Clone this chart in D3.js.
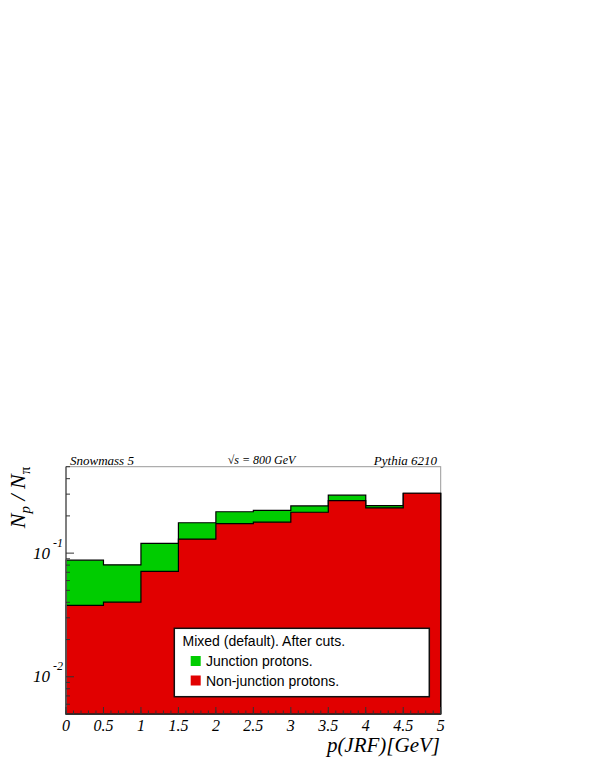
<!DOCTYPE html>
<html><head><meta charset="utf-8">
<script src="https://cdn.jsdelivr.net/npm/d3@7"></script>
<style>body{margin:0;background:#fff}svg{display:block}</style>
</head><body>
<script>
const binEdges = [0,0.5,1,1.5,2,2.5,3,3.5,4,4.5,5];
const nonJunction = [0.0378,0.0401,0.0711,0.130,0.173,0.178,0.214,0.266,0.232,0.305];
const junction    = [0.0499,0.0403,0.0489,0.046,0.043,0.044,0.027,0.028,0.010,0.0];
const xTicks = [0,0.5,1,1.5,2,2.5,3,3.5,4,4.5,5];
const xTickLabels = ["0","0.5","1","1.5","2","2.5","3","3.5","4","4.5","5"];
const yDecades = [0.01,0.1];
const yDecadeExp = ["-2","-1"];
const legendTitle = "Mixed (default). After cuts.";
const legendLabels = ["Junction protons.","Non-junction protons."];
const colors = {junction:"#00cc00", non:"#e10000"};

const W=595,H=770;
const svg=d3.select("body").append("svg").attr("width",W).attr("height",H);
const L=66,R=440.7,T=466.7,B=714;
const x=d3.scaleLinear().domain([0,5]).range([L,R]);
const y=d3.scaleLog().domain([0.005,0.5]).range([B,T]);
const serif="'Liberation Serif','Times New Roman',serif";
const sans="'Liberation Sans',Arial,sans-serif";

const total = nonJunction.map((v,i)=>v+junction[i]);
function stepPath(vals){
  let p=`M${x(binEdges[0])},${B}`;
  vals.forEach((v,i)=>{p+=`L${x(binEdges[i])},${y(v)}L${x(binEdges[i+1])},${y(v)}`;});
  p+=`L${x(binEdges[binEdges.length-1])},${B}Z`;
  return p;
}
// frame
svg.append("rect").attr("x",L).attr("y",T).attr("width",R-L).attr("height",B-T)
  .attr("fill","#fff").attr("stroke","#999").attr("stroke-width",1);
svg.append("path").attr("d",stepPath(total)).attr("fill",colors.junction).attr("stroke","#000").attr("stroke-width",1.2);
svg.append("path").attr("d",stepPath(nonJunction)).attr("fill",colors.non).attr("stroke","#000").attr("stroke-width",1.2);

// axes lines
svg.append("line").attr("x1",L).attr("x2",L).attr("y1",T).attr("y2",B).attr("stroke","#666").attr("stroke-width",1.5);
svg.append("line").attr("x1",L).attr("x2",R).attr("y1",B).attr("y2",B).attr("stroke","#333").attr("stroke-width",1.2);

// x ticks
const xMinor=d3.range(0,5.0001,0.1);
svg.append("g").selectAll("line").data(xMinor).join("line")
  .attr("x1",d=>x(d)).attr("x2",d=>x(d)).attr("y1",B).attr("y2",B-3.5).attr("stroke","#333").attr("stroke-width",1);
svg.append("g").selectAll("line").data(xTicks).join("line")
  .attr("x1",d=>x(d)).attr("x2",d=>x(d)).attr("y1",B).attr("y2",B-7).attr("stroke","#333").attr("stroke-width",1);
svg.append("g").selectAll("text").data(xTicks).join("text")
  .attr("x",d=>x(d)).attr("y",731).attr("text-anchor","middle")
  .attr("font-family",serif).attr("font-style","italic").attr("font-size",16)
  .text((d,i)=>xTickLabels[i]);

// y ticks
const yMinor=[];
[0.001,0.01,0.1].forEach(dec=>{for(let k=2;k<=9;k++){const v=k*dec; if(v>=0.005&&v<=0.5) yMinor.push(v);}});
svg.append("g").selectAll("line").data(yMinor).join("line")
  .attr("x1",L).attr("x2",L+4).attr("y1",d=>y(d)).attr("y2",d=>y(d)).attr("stroke","#333").attr("stroke-width",1);
svg.append("g").selectAll("line").data(yDecades).join("line")
  .attr("x1",L).attr("x2",L+8).attr("y1",d=>y(d)).attr("y2",d=>y(d)).attr("stroke","#333").attr("stroke-width",1);
const yl=svg.append("g").selectAll("g").data(yDecades).join("g");
yl.append("text").attr("x",50).attr("y",d=>y(d)+5.5).attr("text-anchor","end")
  .attr("font-family",serif).attr("font-style","italic").attr("font-size",17).text("10");
yl.append("text").attr("x",53).attr("y",d=>y(d)-6.5)
  .attr("font-family",serif).attr("font-style","italic").attr("font-size",12).text((d,i)=>yDecadeExp[i]);

// top texts
function txt(s,xx,yy,anchor,fs){return svg.append("text").attr("x",xx).attr("y",yy).attr("text-anchor",anchor)
  .attr("font-family",serif).attr("font-style","italic").attr("font-size",fs).text(s);}
txt("Snowmass 5",70,464.5,"start",13);
txt("\u221As = 800 GeV",261.5,464,"middle",12);
txt("Pythia 6210",437,464.5,"end",13);

// axis titles
svg.append("text").attr("x",440).attr("y",752).attr("text-anchor","end")
  .attr("font-family",serif).attr("font-style","italic").attr("font-size",21).text("p(JRF)[GeV]");
const yt=svg.append("text").attr("transform",`translate(25,${T}) rotate(-90)`).attr("text-anchor","end")
  .attr("font-family",serif).attr("font-style","italic").attr("font-size",22);
yt.append("tspan").text("N");
yt.append("tspan").attr("font-size",15).attr("dy",5).text("p");
yt.append("tspan").attr("dy",-5).text(" / N");
yt.append("tspan").attr("font-size",15).attr("dy",5).attr("font-style","normal").text("\u03C0");

// legend
svg.append("rect").attr("x",174.3).attr("y",628.3).attr("width",255).attr("height",68.4)
  .attr("fill","#fff").attr("stroke","#111").attr("stroke-width",1.5);
svg.append("text").attr("x",182.5).attr("y",646).attr("font-family",sans).attr("font-size",14).text(legendTitle);
const lc=[colors.junction,colors.non];
legendLabels.forEach((lab,i)=>{
  svg.append("rect").attr("x",190.7).attr("y",656+i*19.5).attr("width",10).attr("height",10).attr("fill",lc[i]);
  svg.append("text").attr("x",206).attr("y",666+i*19.5).attr("font-family",sans).attr("font-size",14).text(lab);
});
</script>
</body></html>
